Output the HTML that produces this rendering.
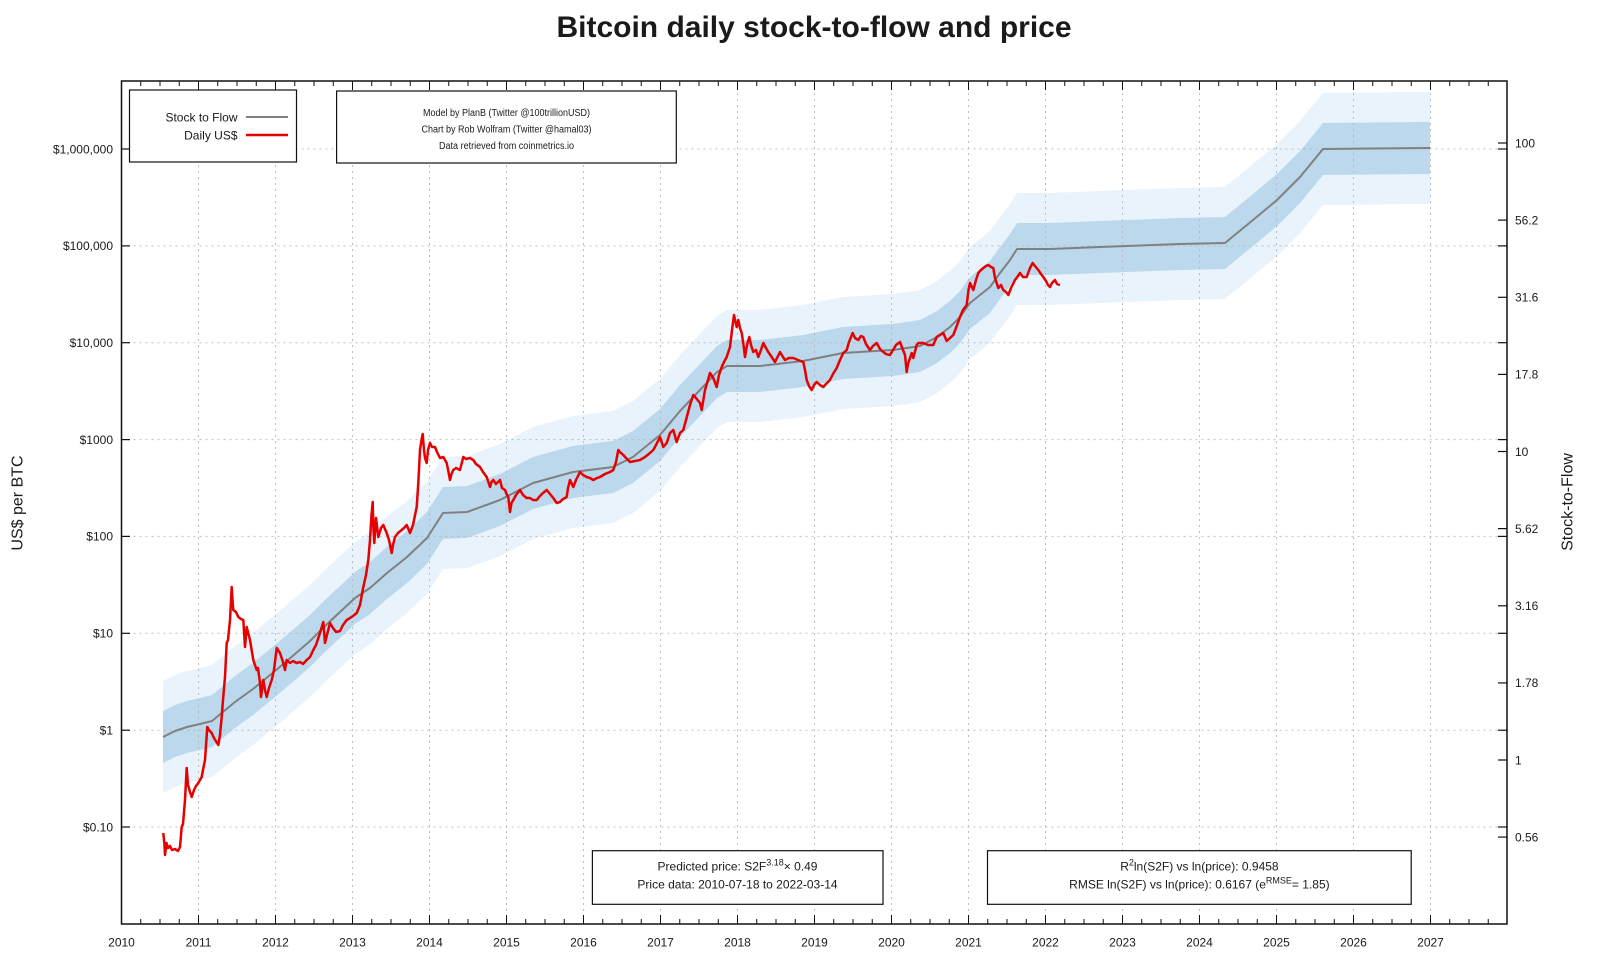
<!DOCTYPE html>
<html>
<head>
<meta charset="utf-8">
<style>
  html,body{margin:0;padding:0;background:#fff;}
  svg{display:block;}
  text{font-family:"Liberation Sans", Arial, sans-serif; fill:#1a1a1a;}
</style>
</head>
<body>
<svg width="1600" height="960" viewBox="0 0 1600 960" xmlns="http://www.w3.org/2000/svg">
  <rect x="0" y="0" width="1600" height="960" fill="#fff"/>

  <!-- Title -->
  <text x="814" y="37" text-anchor="middle" font-size="30" font-weight="bold" fill="#000">Bitcoin daily stock-to-flow and price</text>

  <!-- Bands -->
  <polygon fill="#e8f3fc" points="163,681 175,675 187,671 200,668 212,665 218,660 235,646 253,633 275,615 295,598 310,585 325,570 340,556 355,542 370,532 387,517 407,501 427,482 443,457 467,456 500,444 533,427 573,416 613,411 633,401 660,379 680,355 700,334 717,316 727,310 760,310 803,305 843,297 893,294 920,290 937,281 950,271 960,261 970,247 990,231 1000,217 1010,204 1017,193 1050,193 1100,191 1180,188 1225,187 1253,164 1277,144 1300,121 1323,93 1430,92 1430,204 1323,205 1300,233 1277,256 1253,276 1225,299 1180,300 1100,303 1050,305 1017,305 1010,316 1000,329 990,343 970,359 960,373 950,383 937,393 920,402 893,406 843,409 803,417 760,422 727,422 717,428 700,446 680,467 660,491 633,513 613,523 573,528 533,539 500,556 467,568 443,569 427,594 407,613 387,629 370,644 355,654 340,668 325,682 310,697 295,710 275,727 253,745 235,758 218,772 212,777 200,780 187,783 175,787 163,793"/>
  <polygon fill="#bcd8ec" points="163,711 175,705 187,701 200,698 212,695 218,690 235,676 253,663 275,645 295,628 310,615 325,600 340,586 355,572 370,562 387,547 407,531 427,512 443,487 467,486 500,474 533,457 573,446 613,441 633,431 660,409 680,385 700,364 717,346 727,340 760,340 803,335 843,327 893,324 920,320 937,311 950,301 960,291 970,277 990,261 1000,247 1010,234 1017,223 1050,223 1100,221 1180,218 1225,217 1253,194 1277,174 1300,151 1323,123 1430,122 1430,174 1323,175 1300,203 1277,226 1253,246 1225,269 1180,270 1100,273 1050,275 1017,275 1010,286 1000,299 990,313 970,329 960,343 950,353 937,363 920,372 893,376 843,379 803,387 760,392 727,392 717,398 700,416 680,437 660,461 633,483 613,493 573,498 533,509 500,526 467,538 443,539 427,564 407,583 387,599 370,614 355,624 340,638 325,652 310,667 295,680 275,697 253,715 235,728 218,742 212,747 200,750 187,753 175,757 163,763"/>

  <!-- Grid -->
  <g stroke="#b4b4b4" stroke-width="1" stroke-dasharray="2,4" opacity="0.85">
    <line x1="198.5" y1="81" x2="198.5" y2="924"/>
    <line x1="275.5" y1="81" x2="275.5" y2="924"/>
    <line x1="352.5" y1="81" x2="352.5" y2="924"/>
    <line x1="429.5" y1="81" x2="429.5" y2="924"/>
    <line x1="506.5" y1="81" x2="506.5" y2="924"/>
    <line x1="583.5" y1="81" x2="583.5" y2="924"/>
    <line x1="660.5" y1="81" x2="660.5" y2="924"/>
    <line x1="737.5" y1="81" x2="737.5" y2="924"/>
    <line x1="814.5" y1="81" x2="814.5" y2="924"/>
    <line x1="891.5" y1="81" x2="891.5" y2="924"/>
    <line x1="968.5" y1="81" x2="968.5" y2="924"/>
    <line x1="1045.5" y1="81" x2="1045.5" y2="924"/>
    <line x1="1122.5" y1="81" x2="1122.5" y2="924"/>
    <line x1="1199.5" y1="81" x2="1199.5" y2="924"/>
    <line x1="1276.5" y1="81" x2="1276.5" y2="924"/>
    <line x1="1353.5" y1="81" x2="1353.5" y2="924"/>
    <line x1="1430.5" y1="81" x2="1430.5" y2="924"/>
    <line x1="121.5" y1="149" x2="1507" y2="149"/>
    <line x1="121.5" y1="245.9" x2="1507" y2="245.9"/>
    <line x1="121.5" y1="342.7" x2="1507" y2="342.7"/>
    <line x1="121.5" y1="439.6" x2="1507" y2="439.6"/>
    <line x1="121.5" y1="536.4" x2="1507" y2="536.4"/>
    <line x1="121.5" y1="633.3" x2="1507" y2="633.3"/>
    <line x1="121.5" y1="730.2" x2="1507" y2="730.2"/>
    <line x1="121.5" y1="827" x2="1507" y2="827"/>
  </g>

  <!-- Stock to flow model line -->
  <polyline fill="none" stroke="#808080" stroke-width="2" stroke-linejoin="round" points="163,737 175,731 187,727 200,724 212,721 218,716 235,702 253,689 275,671 295,654 310,641 325,626 340,612 355,598 370,588 387,573 407,557 427,538 443,513 467,512 500,500 533,483 573,472 613,467 633,457 660,435 680,411 700,390 717,372 727,366 760,366 803,361 843,353 893,350 920,346 937,337 950,327 960,317 970,303 990,287 1000,273 1010,260 1017,249 1050,249 1100,247 1180,244 1225,243 1253,220 1277,200 1300,177 1323,149 1430,148"/>

  <!-- Daily price -->
  <polyline fill="none" stroke="#e60000" stroke-width="2.5" stroke-linejoin="round" points="163.3,833 164.5,845 165,855 166.5,843 168,848 170,846 172,850 175,849 178,851 180,847 181.7,827 183,824 185,800 186.7,768 188,785 190,792 191.7,797 194,790 196,786 198.3,783 201.7,777 203,770 205,760 207.3,727 209,730 211.7,733 214,738 218.3,745 220,735 221.7,717 223,700 225,677 226.7,643 228,640 230,620 231.7,587 232.5,600 233.3,610 236,612 238.3,617 241,619 243.3,620 245,647 246.7,627 250,640 253.3,660 256.7,670 258,668 260,683 261,697 263.3,680 265,690 266.7,697 269,688 271.7,680 274,670 276.7,648 280,653 283,662 285,670 286.7,660 290,663 293,661 296.7,663 300,662 303,664 306.7,660 310,657 313.3,650 316,645 320,633 323.3,622 325,643 327,635 330,623 333,628 336,632 340,631 343,625 346.7,620 350,618 353,616 356.7,613 360,605 363.3,587 366,575 368.3,560 370,540 371.5,515 372.7,502 373.5,530 374.3,543 376,518 378.3,537 381,528 383.3,525 386.7,533 389,540 391.7,553 393,545 395,537 398,533 401.7,530 404,528 406.7,525 410,533 413,525 416.7,507 418.3,483 420,450 421.5,440 422.7,434 424,450 425,458 426.7,463 428,450 430,443 432,447 435,447 437,452 440,458 443.3,457 446.7,463 448.5,472 450,480 451.5,474 453.3,470 456,468 460,470 463.3,457 466,459 470,458 473.3,460 476,464 480,467 483,472 486.7,477 490,487 491.5,482 493.3,480 496,484 500,480 502,488 505,490 507,495 508.3,497 510,512 511.5,503 513.3,500 516,495 520,490 523,495 526.7,498 530,498 533,500 536.7,500 540,496 543,493 546.7,490 550,494 553.3,498 556.7,503 560,502 563,499 566.7,497 568,488 570,480 573.3,487 576,480 580,472 583,475 586.7,477 590,478 593.3,480 597,478 600,477 605,474 610,472 613.3,470 616,462 618.3,450 620,452 623.3,455 627,459 630,462 635,461 640,460 645,457 650,453 653.3,450 656,445 660,437 663.3,447 666.7,443 670,433 673.3,430 676.7,442 680,433 683.3,430 686,420 690,405 693.3,395 696,398 700,403 701.7,410 705,390 708,380 710,373 713.3,378 716.7,387 719,375 721.7,367 724,362 726.7,357 730,347 732,330 734,315 735.5,322 736.7,327 738.3,320 740,328 741.7,333 743.5,345 745,357 747,345 749.3,337 751,345 753.3,352 756,350 758.3,357 761,350 763.3,343 766,348 768.3,352 771,356 775,362 778,356 780,352 783,357 785,360 789,358 793.3,358 798,360 803.3,362 805,370 806.7,380 809,386 811.7,390 814,385 816.7,382 820,385 823.3,387 826,384 830,380 833,374 836.7,368 840,360 843.3,353 846.7,350 849,342 852.7,333 855,338 858.3,340 861,336 863.3,337 866,344 870,350 873,346 876.7,343 880,349 883.3,352 886,354 890,355 893,350 896,345 900,342 903,350 905,355 906.7,372 908,364 911.7,353 913.3,358 916.7,345 918.3,343 923.3,343 928,345 933.3,345 936.7,337 940,335 943.3,333 946.7,341 950,338 953.3,335 956,328 960,317 963,310 966.7,305 968.5,290 970,283 973.3,290 976,280 978.3,273 981,270 983.3,268 986,266 988.3,265 991,267 993.3,268 995,278 998.3,288 1001,285 1003.3,290 1006,292 1008.3,295 1011,288 1015,280 1018,276 1020,273 1023,277 1026.7,277 1030,268 1032.7,263 1035,266 1038.3,270 1041,274 1043.3,277 1046,281 1048,285 1050,287 1052,283 1055,280 1057,284 1060,285"/>

  <!-- Legend box -->
  <rect x="129.5" y="90" width="167" height="72" fill="#fff" stroke="#111" stroke-width="1.2"/>
  <text x="237.5" y="121.6" text-anchor="end" font-size="12">Stock to Flow</text>
  <text x="237.5" y="139.6" text-anchor="end" font-size="12">Daily US$</text>
  <line x1="246" y1="117" x2="288" y2="117" stroke="#808080" stroke-width="2"/>
  <line x1="246" y1="135" x2="288" y2="135" stroke="#e60000" stroke-width="2.5"/>

  <!-- Credits box -->
  <rect x="336.6" y="91" width="339.7" height="72" fill="#fff" stroke="#111" stroke-width="1.2"/>
  <text x="506.5" y="115.8" text-anchor="middle" font-size="10" textLength="167" lengthAdjust="spacingAndGlyphs">Model by PlanB (Twitter @100trillionUSD)</text>
  <text x="506.5" y="132.5" text-anchor="middle" font-size="10" textLength="170" lengthAdjust="spacingAndGlyphs">Chart by Rob Wolfram (Twitter @hamal03)</text>
  <text x="506.5" y="148.8" text-anchor="middle" font-size="10" textLength="135" lengthAdjust="spacingAndGlyphs">Data retrieved from coinmetrics.io</text>

  <!-- Bottom boxes -->
  <rect x="592.4" y="850.7" width="290.6" height="53.6" fill="#fff" stroke="#111" stroke-width="1.2"/>
  <text x="737.5" y="870.3" text-anchor="middle" font-size="12">Predicted price: S2F<tspan dy="-5" font-size="9">3.18</tspan><tspan dy="5">× 0.49</tspan></text>
  <text x="737.5" y="888.3" text-anchor="middle" font-size="12">Price data: 2010-07-18 to 2022-03-14</text>

  <rect x="987.5" y="850.7" width="423.7" height="53.6" fill="#fff" stroke="#111" stroke-width="1.2"/>
  <text x="1199.4" y="870.3" text-anchor="middle" font-size="12">R<tspan dy="-5" font-size="9">2</tspan><tspan dy="5">ln(S2F) vs ln(price): 0.9458</tspan></text>
  <text x="1199.4" y="888.3" text-anchor="middle" font-size="12">RMSE ln(S2F) vs ln(price): 0.6167 (e<tspan dy="-5" font-size="9">RMSE</tspan><tspan dy="5">= 1.85)</tspan></text>

  <!-- Axis frame -->
  <rect x="121.5" y="81" width="1385.5" height="843" fill="none" stroke="#111" stroke-width="1.5"/>

  <!-- X ticks (bottom & top) -->
  <g stroke="#111" fill="none">
    <line x1="121" y1="921.5" x2="1507" y2="921.5" stroke-width="5" stroke-dasharray="1 18.25"/>
    <line x1="121" y1="919.5" x2="1507" y2="919.5" stroke-width="9" stroke-dasharray="1 76"/>
    <line x1="121" y1="83.5" x2="1507" y2="83.5" stroke-width="5" stroke-dasharray="1 18.25"/>
    <line x1="121" y1="85.5" x2="1507" y2="85.5" stroke-width="9" stroke-dasharray="1 76"/>
  </g>

  <!-- Y ticks left & right mirror -->
  <g stroke="#111" stroke-width="1.2">
    <line x1="121.5" y1="149" x2="130" y2="149"/>
    <line x1="121.5" y1="245.9" x2="130" y2="245.9"/>
    <line x1="121.5" y1="342.7" x2="130" y2="342.7"/>
    <line x1="121.5" y1="439.6" x2="130" y2="439.6"/>
    <line x1="121.5" y1="536.4" x2="130" y2="536.4"/>
    <line x1="121.5" y1="633.3" x2="130" y2="633.3"/>
    <line x1="121.5" y1="730.2" x2="130" y2="730.2"/>
    <line x1="121.5" y1="827" x2="130" y2="827"/>
    <line x1="1498" y1="149" x2="1507" y2="149"/>
    <line x1="1498" y1="245.9" x2="1507" y2="245.9"/>
    <line x1="1498" y1="342.7" x2="1507" y2="342.7"/>
    <line x1="1498" y1="439.6" x2="1507" y2="439.6"/>
    <line x1="1498" y1="536.4" x2="1507" y2="536.4"/>
    <line x1="1498" y1="633.3" x2="1507" y2="633.3"/>
    <line x1="1498" y1="730.2" x2="1507" y2="730.2"/>
    <line x1="1498" y1="827" x2="1507" y2="827"/>
    <!-- S2F ticks -->
    <line x1="1498" y1="143" x2="1507" y2="143"/>
    <line x1="1498" y1="220.1" x2="1507" y2="220.1"/>
    <line x1="1498" y1="297.3" x2="1507" y2="297.3"/>
    <line x1="1498" y1="374.4" x2="1507" y2="374.4"/>
    <line x1="1498" y1="451.5" x2="1507" y2="451.5"/>
    <line x1="1498" y1="528.6" x2="1507" y2="528.6"/>
    <line x1="1498" y1="605.8" x2="1507" y2="605.8"/>
    <line x1="1498" y1="682.9" x2="1507" y2="682.9"/>
    <line x1="1498" y1="760" x2="1507" y2="760"/>
    <line x1="1498" y1="837.1" x2="1507" y2="837.1"/>
  </g>

  <!-- Left labels -->
  <g font-size="12" text-anchor="end">
    <text x="113" y="153.3">$1,000,000</text>
    <text x="113" y="250.2">$100,000</text>
    <text x="113" y="347">$10,000</text>
    <text x="113" y="443.9">$1000</text>
    <text x="113" y="540.7">$100</text>
    <text x="113" y="637.6">$10</text>
    <text x="113" y="734.5">$1</text>
    <text x="113" y="831.3">$0.10</text>
  </g>

  <!-- Right labels -->
  <g font-size="12">
    <text x="1515" y="147.3">100</text>
    <text x="1515" y="224.4">56.2</text>
    <text x="1515" y="301.6">31.6</text>
    <text x="1515" y="378.7">17.8</text>
    <text x="1515" y="455.8">10</text>
    <text x="1515" y="532.9">5.62</text>
    <text x="1515" y="610.1">3.16</text>
    <text x="1515" y="687.2">1.78</text>
    <text x="1515" y="764.3">1</text>
    <text x="1515" y="841.4">0.56</text>
  </g>

  <!-- Year labels -->
  <g font-size="12" text-anchor="middle">
    <text x="121.5" y="946.5">2010</text>
    <text x="198.5" y="946.5">2011</text>
    <text x="275.5" y="946.5">2012</text>
    <text x="352.5" y="946.5">2013</text>
    <text x="429.5" y="946.5">2014</text>
    <text x="506.5" y="946.5">2015</text>
    <text x="583.5" y="946.5">2016</text>
    <text x="660.5" y="946.5">2017</text>
    <text x="737.5" y="946.5">2018</text>
    <text x="814.5" y="946.5">2019</text>
    <text x="891.5" y="946.5">2020</text>
    <text x="968.5" y="946.5">2021</text>
    <text x="1045.5" y="946.5">2022</text>
    <text x="1122.5" y="946.5">2023</text>
    <text x="1199.5" y="946.5">2024</text>
    <text x="1276.5" y="946.5">2025</text>
    <text x="1353.5" y="946.5">2026</text>
    <text x="1430.5" y="946.5">2027</text>
  </g>

  <!-- Axis titles -->
  <text transform="translate(22.5,503) rotate(-90)" text-anchor="middle" font-size="16">US$ per BTC</text>
  <text transform="translate(1572.5,502) rotate(-90)" text-anchor="middle" font-size="16">Stock-to-Flow</text>
</svg>
</body>
</html>
